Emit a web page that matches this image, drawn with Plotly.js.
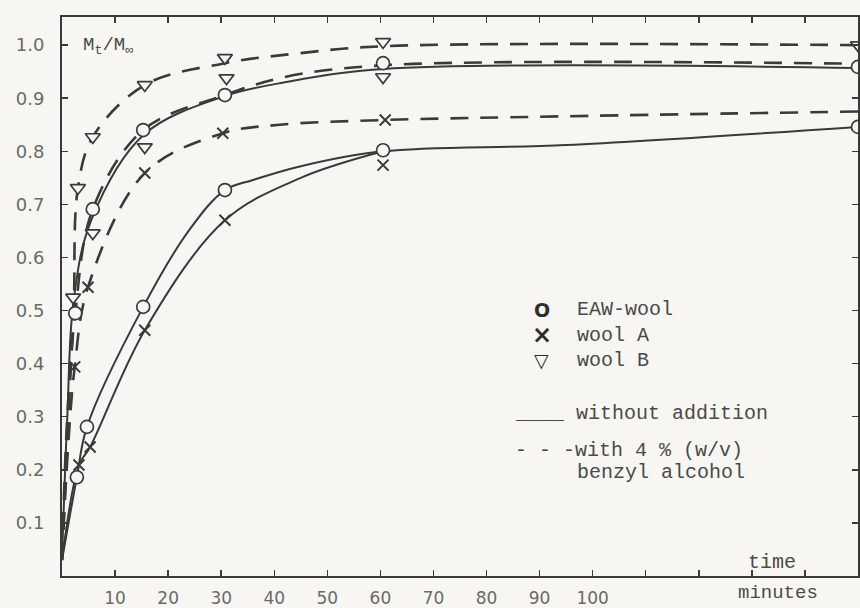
<!DOCTYPE html>
<html>
<head>
<meta charset="utf-8">
<script src="https://cdn.plot.ly/plotly-3.0.1.min.js"></script>
<style>
  html, body { margin: 0; padding: 0; background: #f7f6f2; }
  #chart { width: 860px; height: 608px; }
</style>
</head>
<body>
<div id="chart"></div>
<script>
// Sorption kinetics: fractional uptake Mt/M∞ against time (minutes)

// Measured points (time in minutes, fractional uptake)
const eawAlcT   = [2.5, 5.8, 15.3, 30.7, 60.5, 150];
const eawAlcV   = [0.495, 0.691, 0.840, 0.906, 0.966, 0.959];
const eawT      = [2.8, 4.7, 15.3, 30.7, 60.5, 150];
const eawV      = [0.186, 0.281, 0.507, 0.727, 0.802, 0.846];
const woolAAlcT = [2.4, 4.9, 15.6, 30.3, 60.9];
const woolAAlcV = [0.394, 0.544, 0.759, 0.834, 0.859];
const woolAT    = [3.2, 5.3, 15.6, 30.7, 60.5];
const woolAV    = [0.209, 0.243, 0.463, 0.670, 0.774];
const woolBAlcT = [3.0, 5.8, 15.6, 30.7, 60.5, 150];
const woolBAlcV = [0.731, 0.827, 0.925, 0.976, 1.006, 1.000];
const woolBT    = [2.1, 5.8, 15.6, 31.0, 60.5];
const woolBV    = [0.525, 0.646, 0.808, 0.938, 0.940];

// Hand-drawn curves through the data
const eawAlcCurveT   = [0, 1.0, 2.5, 5.8, 15.3, 30.7, 42, 60.5, 150];
const eawAlcCurveV   = [0.03, 0.30, 0.495, 0.691, 0.840, 0.906, 0.940, 0.962, 0.965];
const eawCurveT      = [0, 2.8, 4.7, 15.3, 24, 30.7, 36, 45, 60.5, 95, 150];
const eawCurveV      = [0.03, 0.186, 0.281, 0.507, 0.652, 0.727, 0.746, 0.772, 0.800, 0.812, 0.846];
const woolAAlcCurveT = [0, 1.0, 2.4, 4.9, 15.6, 30.3, 41, 60.9, 95, 150];
const woolAAlcCurveV = [0.03, 0.22, 0.394, 0.544, 0.759, 0.834, 0.850, 0.859, 0.866, 0.875];
const woolACurveT    = [0, 3.2, 5.3, 15.6, 30.7, 45, 60.5];
const woolACurveV    = [0.03, 0.209, 0.243, 0.463, 0.670, 0.750, 0.800];
const woolBAlcCurveT = [0, 1.2, 2.2, 3.0, 5.8, 15.6, 30.7, 45, 60.5, 150];
const woolBAlcCurveV = [0.03, 0.30, 0.50, 0.731, 0.827, 0.925, 0.966, 0.985, 0.998, 1.000];
const woolBCurveT    = [0, 1.0, 2.2, 5.5, 15.5, 30.7, 42, 60.5, 150];
const woolBCurveV    = [0.03, 0.30, 0.52, 0.670, 0.832, 0.904, 0.930, 0.955, 0.957];

// Axis ticks
const xTickVals  = [10, 20, 30, 40, 50, 60, 70, 80, 90, 100];
const xTickText  = ['10', '20', '30', '40', '50', '60', '70', '80', '90', '100'];
const xExtraTicks = [110, 120, 130, 140];
const yTickVals = [0.1, 0.2, 0.3, 0.4, 0.5, 0.6, 0.7, 0.8, 0.9, 1.0];
const yTickText = ['0.1', '0.2', '0.3', '0.4', '0.5', '0.6', '0.7', '0.8', '0.9', '1.0'];

const ink = '#3a3a3a';
const paper = '#f7f6f2';
const dashPattern = '18px,12px';

function curve(t, v, dashed) {
  return {
    x: t, y: v, type: 'scatter', mode: 'lines', hoverinfo: 'skip',
    line: { color: ink, width: dashed ? 2.6 : 2, dash: dashed ? dashPattern : 'solid',
            shape: 'spline', smoothing: 1.0 },
    showlegend: false
  };
}

function points(t, v, symbol) {
  const isX = symbol === 'x-thin-open';
  return {
    x: t, y: v, type: 'scatter', mode: 'markers', cliponaxis: false,
    marker: {
      symbol: symbol,
      size: isX ? 11 : 13,
      color: isX ? ink : paper,
      line: { color: ink, width: isX ? 2 : 1.7 }
    },
    showlegend: false
  };
}

const data = [
  curve(eawCurveT, eawCurveV, false),
  curve(woolACurveT, woolACurveV, false),
  curve(woolBCurveT, woolBCurveV, false),
  curve(eawAlcCurveT, eawAlcCurveV, true),
  curve(woolAAlcCurveT, woolAAlcCurveV, true),
  curve(woolBAlcCurveT, woolBAlcCurveV, true),
  points(eawT, eawV, 'circle'),
  points(eawAlcT, eawAlcV, 'circle'),
  points(woolAT, woolAV, 'x-thin-open'),
  points(woolAAlcT, woolAAlcV, 'x-thin-open'),
  points(woolBT, woolBV, 'triangle-down'),
  points(woolBAlcT, woolBAlcV, 'triangle-down')
];

const monoFamily = 'Liberation Mono, DejaVu Sans Mono, monospace';
const mono = { family: monoFamily, size: 20, color: '#4a4a4a' };
const symFont = { family: 'DejaVu Sans, sans-serif', size: 19, color: '#2e2e2e' };

function note(text, x, y, font, xanchor) {
  return { text: text, xref: 'paper', yref: 'paper', x: x, y: y,
           xanchor: xanchor || 'left', yanchor: 'middle', showarrow: false, font: font };
}

const annotations = [
  note('M<sub>t</sub>/M<sub>∞</sub>', 0.024, 0.948, { family: monoFamily, size: 19, color: '#4a4a4a' }),
  note('<b>O</b>', 0.603, 0.476, symFont, 'center'),
  note('<b>×</b>', 0.603, 0.431, { family: 'DejaVu Sans, sans-serif', size: 24, color: '#2e2e2e' }, 'center'),
  note('<b>▽</b>', 0.603, 0.386, symFont, 'center'),
  note('EAW-wool', 0.6445, 0.476, mono),
  note('wool A', 0.6445, 0.431, mono),
  note('wool B', 0.6445, 0.386, mono),
  note('____ without addition', 0.567, 0.290, mono),
  note('- - -with 4 % (w/v)', 0.567, 0.225, mono),
  note('benzyl alcohol', 0.6445, 0.186, mono),
  note('time', 0.892, 0.025, mono, 'center'),
  note('minutes', 0.900, -0.030, { family: monoFamily, size: 19, color: '#4a4a4a' }, 'center')
];

const axisCommon = {
  showgrid: false, zeroline: false,
  showline: true, linecolor: ink, linewidth: 2,
  mirror: 'ticks', ticks: 'inside', ticklen: 6, tickwidth: 1.5, tickcolor: ink,
  tickfont: { family: 'DejaVu Sans, sans-serif', size: 17, color: '#6a6a6a' },
  fixedrange: true
};

const layout = {
  width: 860, height: 608,
  margin: { l: 62, r: 2, t: 17, b: 32 },
  paper_bgcolor: paper, plot_bgcolor: paper,
  showlegend: false,
  xaxis: Object.assign({}, axisCommon, {
    range: [0, 150], tickmode: 'array', tickvals: xTickVals, ticktext: xTickText,
    ticklabelstandoff: 6,
    minor: { tickmode: 'array', tickvals: xExtraTicks, ticks: 'inside', ticklen: 6,
             tickwidth: 1.5, tickcolor: ink, showgrid: false }
  }),
  yaxis: Object.assign({}, axisCommon, {
    range: [0, 1.053], tickmode: 'array', tickvals: yTickVals, ticktext: yTickText,
    ticklabelstandoff: 12,
    tickfont: { family: 'DejaVu Sans, sans-serif', size: 18, color: '#6a6a6a' }
  }),
  annotations: annotations
};

Plotly.newPlot('chart', data, layout, { staticPlot: true, displayModeBar: false });
</script>
</body>
</html>
